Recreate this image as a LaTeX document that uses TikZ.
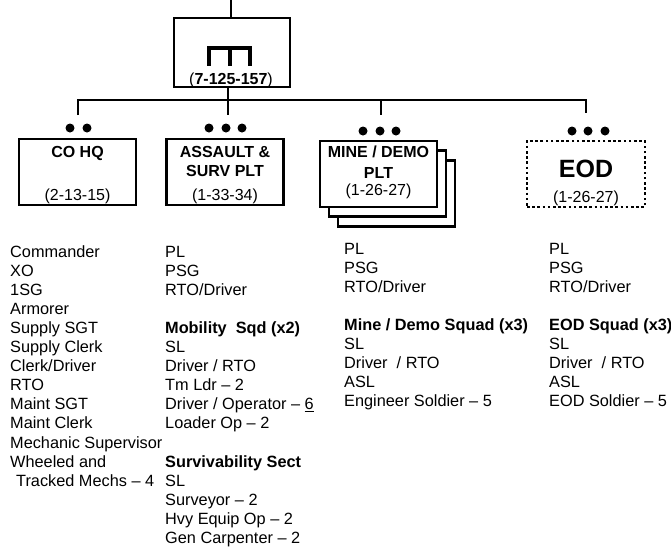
\documentclass[tikz,border=0pt]{standalone}
\usepackage{fontspec}
\setmainfont{Liberation Sans}
\begin{document}
\begin{tikzpicture}[x=1pt,y=-1pt,
  unitbox/.style={draw, line width=2.8pt, fill=white, inner sep=0pt, minimum width=117pt, minimum height=66pt},
  dotbox/.style={draw, line width=2.6pt, dash pattern=on 2.6pt off 2.6pt, inner sep=0pt, minimum width=118pt, minimum height=66pt},
  conn/.style={line width=2.6pt},
  sym/.style={line width=4pt, line cap=rect},
  echelon/.style={circle, fill=black, inner sep=0pt, minimum size=9pt},
  hdr/.style={inner sep=0pt, anchor=base, font=\fontsize{16}{19}\selectfont\bfseries},
  num/.style={inner sep=0pt, anchor=base, font=\fontsize{16}{19}\selectfont},
  list/.style={inner sep=0pt, anchor=base west, align=left, font=\fontsize{16.3}{19.1}\selectfont}]
\useasboundingbox (0,0) rectangle (671,550);

% top unit
\node[unitbox, minimum width=116pt, minimum height=69pt] (top) at (232,52.5) {};
\coordinate (topin) at (231,0);
\draw[conn] (topin) -- (topin |- top.north);
\draw[sym] (209,64) -- (209,48) -- (250,48) -- (250,64);
\draw[sym] (229.5,48) -- (229.5,64);
\node[num] (topnum) at (231,84) {(\textbf{7-125-157})};

% bus
\coordinate (busL) at (78,100);
\coordinate (busR) at (586,100);
\coordinate (dropA) at (78,115);
\coordinate (dropB) at (228,115);
\coordinate (dropC) at (381,115);
\coordinate (dropD) at (586,113);
\coordinate (topout) at (228,87);
\draw[conn] (dropA) -- (busL) -- (busR) -- (dropD);
\draw[conn] (topout) -- (dropB);
\draw[conn] (381,100) -- (dropC);

% CO HQ
\node[unitbox] (cohq) at (77.5,172) {};
\node[echelon] (cohqd1) at (70,128) {};
\node[echelon] (cohqd2) at (87,128) {};
\node[hdr] (cohqt) at (77.5,157) {CO HQ};
\node[num] (cohqn) at (77.5,200.5) {(2-13-15)};

% Assault
\node[unitbox] (asl) at (225,172) {};
\node[echelon] (asld1) at (209,128) {};
\node[echelon] (asld2) at (226,128) {};
\node[echelon] (asld3) at (242,128) {};
\node[hdr] (aslt1) at (225,157) {ASSAULT \&};
\node[hdr] (aslt2) at (225,176) {SURV PLT};
\node[num] (asln) at (225,200.5) {(1-33-34)};

% Mine / Demo
\node[unitbox] (mine3) at (396.5,193.5) {};
\node[unitbox] (mine2) at (387.5,183.5) {};
\node[unitbox] (mine) at (378.5,174) {};
\node[echelon] (mined1) at (363,131) {};
\node[echelon] (mined2) at (380,131) {};
\node[echelon] (mined3) at (396,131) {};
\node[hdr] (minet1) at (378.5,157) {MINE / DEMO};
\node[hdr] (minet2) at (378.5,178) {PLT};
\node[num] (minen) at (378.5,195) {(1-26-27)};

% EOD
\node[dotbox] (eod) at (586,174) {};
\node[echelon] (eodd1) at (572,131) {};
\node[echelon] (eodd2) at (588,131) {};
\node[echelon] (eodd3) at (605,131) {};
\node[inner sep=0pt, anchor=base, font=\fontsize{25}{28}\selectfont\bfseries] (eodt) at (586,177) {EOD};
\node[num] (eodn) at (586,202) {(1-26-27)};

% lists (anchored at the baseline of their last line)
\node[list] (listA) at (10,486.2) {Commander\\XO\\1SG\\Armorer\\Supply SGT\\Supply Clerk\\Clerk/Driver\\RTO\\Maint SGT\\Maint Clerk\\Mechanic Supervisor\\Wheeled and\\\hspace*{6pt}Tracked Mechs – 4};
\node[list] (listB) at (165,543.5) {PL\\PSG\\RTO/Driver\\[19.1pt]\textbf{Mobility\ \ Sqd (x2)}\\SL\\Driver / RTO\\Tm Ldr – 2\\Driver / Operator – \underline{6}\\Loader Op – 2\\[19.1pt]\textbf{Survivability Sect}\\SL\\Surveyor – 2\\Hvy Equip Op – 2\\Gen Carpenter – 2};
\node[list] (listC) at (344,406.8) {PL\\PSG\\RTO/Driver\\[19.1pt]\textbf{Mine / Demo Squad (x3)}\\SL\\Driver\ \ / RTO\\ASL\\Engineer Soldier – 5};
\node[list] (listD) at (549,406.8) {PL\\PSG\\RTO/Driver\\[19.1pt]\textbf{EOD Squad (x3)}\\SL\\Driver\ \ / RTO\\ASL\\EOD Soldier – 5};
\end{tikzpicture}
\end{document}
